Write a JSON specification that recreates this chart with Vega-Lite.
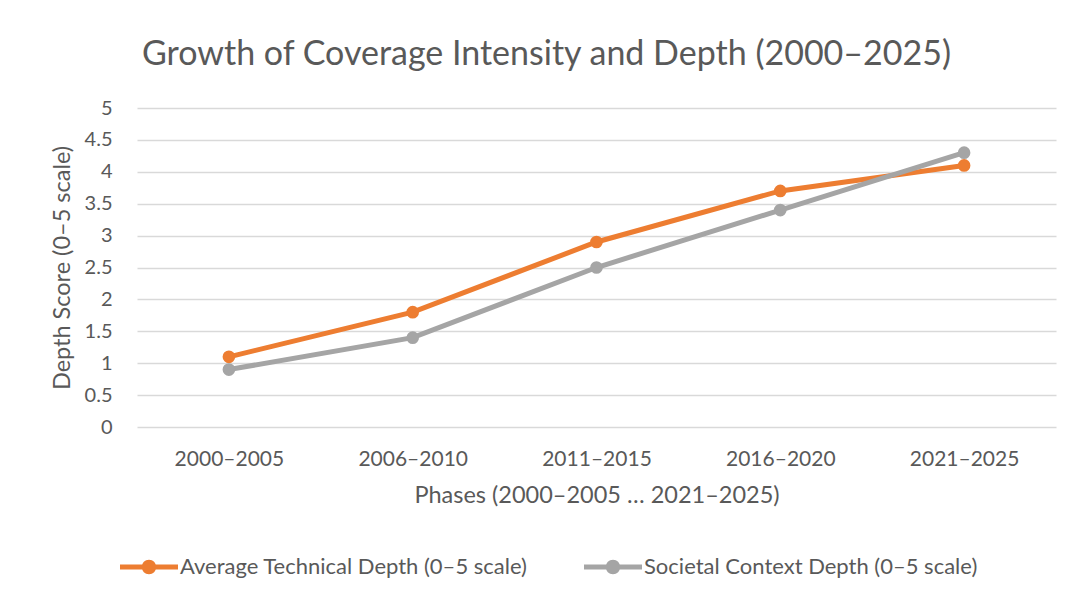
{
  "$schema": "https://vega.github.io/schema/vega-lite/v6.json",
  "width": 919,
  "height": 319,
  "autosize": {"type": "none"},
  "padding": {"left": 137, "top": 108, "right": 15, "bottom": 172},
  "background": "white",
  "title": {
    "text": "Growth of Coverage Intensity and Depth (2000–2025)",
    "anchor": "middle",
    "dx": -50,
    "offset": 26,
    "fontSize": 34,
    "font": "Lato",
    "fontWeight": "normal",
    "color": "#595959"
  },
  "data": {
    "values": [
      {"phase": "2000–2005", "series": "Average Technical Depth (0–5 scale)", "value": 1.1},
      {"phase": "2006–2010", "series": "Average Technical Depth (0–5 scale)", "value": 1.8},
      {"phase": "2011–2015", "series": "Average Technical Depth (0–5 scale)", "value": 2.9},
      {"phase": "2016–2020", "series": "Average Technical Depth (0–5 scale)", "value": 3.7},
      {"phase": "2021–2025", "series": "Average Technical Depth (0–5 scale)", "value": 4.1},
      {"phase": "2000–2005", "series": "Societal Context Depth (0–5 scale)", "value": 0.9},
      {"phase": "2006–2010", "series": "Societal Context Depth (0–5 scale)", "value": 1.4},
      {"phase": "2011–2015", "series": "Societal Context Depth (0–5 scale)", "value": 2.5},
      {"phase": "2016–2020", "series": "Societal Context Depth (0–5 scale)", "value": 3.4},
      {"phase": "2021–2025", "series": "Societal Context Depth (0–5 scale)", "value": 4.3}
    ]
  },
  "encoding": {
    "x": {
      "field": "phase",
      "type": "ordinal",
      "sort": null,
      "scale": {"type": "point", "padding": 0.5},
      "axis": {
        "title": "Phases (2000–2005 … 2021–2025)",
        "labelAngle": 0,
        "domain": false,
        "ticks": false,
        "grid": false,
        "labelPadding": 21,
        "titlePadding": 14
      }
    },
    "y": {
      "field": "value",
      "type": "quantitative",
      "scale": {"domain": [0, 5], "nice": false},
      "axis": {
        "title": "Depth Score (0–5 scale)",
        "values": [0, 0.5, 1, 1.5, 2, 2.5, 3, 3.5, 4, 4.5, 5],
        "format": "~g",
        "domain": false,
        "ticks": false,
        "labelPadding": 25,
        "titlePadding": 10
      }
    },
    "color": {
      "field": "series",
      "type": "nominal",
      "scale": {
        "domain": ["Average Technical Depth (0–5 scale)", "Societal Context Depth (0–5 scale)"],
        "range": ["#ED7D31", "#A5A5A5"]
      },
      "legend": {
        "orient": "none",
        "direction": "horizontal",
        "legendX": -17,
        "legendY": 430,
        "title": null,
        "symbolType": "M -1 -0.09 H 1 V 0.09 H -1 Z M 0.25 0 A 0.25 0.25 0 1 1 -0.25 0 A 0.25 0.25 0 1 1 0.25 0 Z",
        "symbolSize": 3364,
        "symbolStrokeWidth": 0,
        "labelOffset": 2,
        "columnPadding": 56,
        "encode": {
          "symbols": {
            "update": {
              "fill": {"scale": "color", "field": "value"},
              "fillOpacity": {"value": 1},
              "strokeWidth": {"value": 0}
            }
          }
        }
      }
    }
  },
  "layer": [
    {"mark": {"type": "line", "strokeWidth": 5}},
    {"mark": {"type": "point", "filled": true, "size": 160, "opacity": 1}}
  ],
  "config": {
    "font": "Lato",
    "view": {"stroke": null},
    "axis": {
      "labelFont": "Lato",
      "titleFont": "Lato",
      "labelFontSize": 20,
      "titleFontSize": 23.5,
      "labelColor": "#595959",
      "titleColor": "#595959",
      "titleFontWeight": "normal",
      "gridColor": "#D9D9D9",
      "gridWidth": 1.5
    },
    "axisX": {"labelFontSize": 21},
    "legend": {
      "labelFont": "Lato",
      "labelFontSize": 22,
      "labelColor": "#595959",
      "labelLimit": 500
    }
  }
}
